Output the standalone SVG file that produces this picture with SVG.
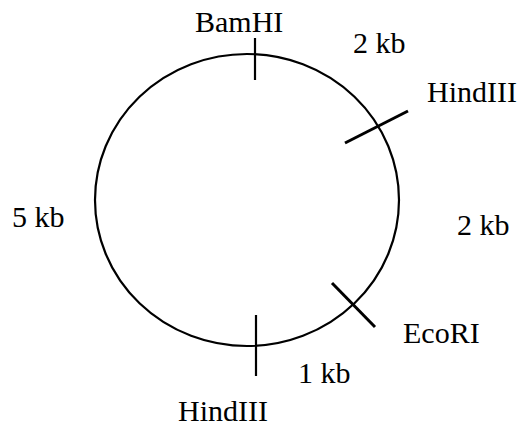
<svg xmlns="http://www.w3.org/2000/svg" width="524" height="427" viewBox="0 0 524 427">
  <style>
    .lbl { font-family: "Liberation Serif", "Times New Roman", serif; font-size: 30px; fill: #000; }
    .ring { fill: none; stroke: #000; stroke-width: 2.2; }
    .cut { stroke: #000; stroke-width: 2.2; }
    .cut-thick { stroke: #000; stroke-width: 3; }
  </style>
  <rect width="524" height="427" fill="#fff"/>

  <!-- plasmid backbone -->
  <g id="plasmid">
    <ellipse class="ring" cx="247" cy="200" rx="152" ry="146"/>
  </g>

  <!-- restriction site ticks -->
  <g id="connectors">
    <line class="cut" x1="255" y1="38" x2="255" y2="80"/>
    <line class="cut-thick" x1="345" y1="143" x2="408" y2="111"/>
    <line class="cut-thick" x1="332" y1="283" x2="375" y2="327"/>
    <line class="cut" x1="256" y1="315" x2="256" y2="376"/>
  </g>

  <g id="site-bamhi"><text class="lbl" x="195" y="32">BamHI</text></g>
  <g id="site-hindiii-a"><text class="lbl" x="427" y="102">HindIII</text></g>
  <g id="site-ecori"><text class="lbl" x="403" y="343">EcoRI</text></g>
  <g id="site-hindiii-b"><text class="lbl" x="178" y="421">HindIII</text></g>

  <g id="fragment-2kb-a"><text class="lbl" x="353" y="53">2 kb</text></g>
  <g id="fragment-2kb-b"><text class="lbl" x="457" y="235">2 kb</text></g>
  <g id="fragment-1kb"><text class="lbl" x="298" y="383">1 kb</text></g>
  <g id="fragment-5kb"><text class="lbl" x="12" y="227">5 kb</text></g>
</svg>
